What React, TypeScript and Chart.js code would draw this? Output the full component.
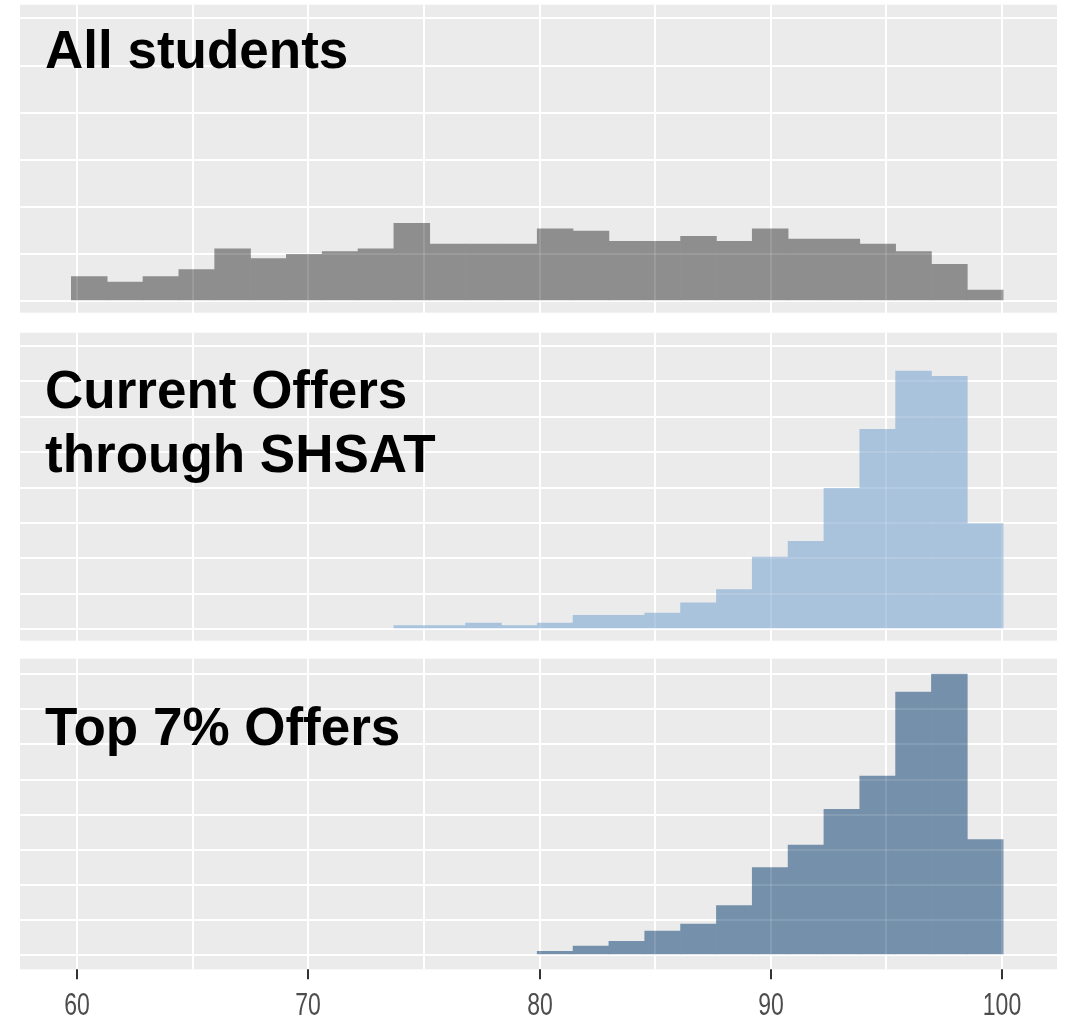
import React, { useEffect, useRef } from "react";
import { Chart, registerables } from "chart.js";

Chart.register(...registerables);

// ---------- data ----------
const BIN_START = 59.75;
const BIN_WIDTH = 1.55;

const allStudents: (number | null)[] = [
  0.52, 0.4, 0.52, 0.67, 1.11, 0.9, 0.99, 1.05, 1.11, 1.65,
  1.21, 1.21, 1.21, 1.535, 1.486, 1.267, 1.267, 1.374, 1.267, 1.535,
  1.316, 1.316, 1.21, 1.047, 0.779, 0.234,
];

const currentOffers: (number | null)[] = [
  null, null, null, null, null, null, null, null, null, 0.093,
  0.093, 0.17, 0.093, 0.17, 0.387, 0.387, 0.452, 0.743, 1.111, 2.035,
  2.479, 3.977, 5.645, 7.293, 7.143, 2.977,
];

const top7Offers: (number | null)[] = [
  null, null, null, null, null, null, null, null, null, null,
  null, null, null, 0.105, 0.256, 0.39, 0.684, 0.883, 1.405, 2.488,
  3.135, 4.152, 5.101, 7.495, 8.008, 3.286,
];

const titleAll = ["All students"];
const titleCurrent = ["Current Offers", "through SHSAT"];
const titleTop7 = ["Top 7% Offers"];

const xGridValues = [60, 65, 70, 75, 80, 85, 90, 95, 100];
const xTickLabels = [60, 70, 80, 90, 100];

// ---------- layout / style ----------
const W = 1069;
const H = 1019;
const X_MIN = 57.53;
const X_MAX = 102.38;
const PANEL_LEFT = 20;
const PANEL_RIGHT = 1057;
const PANEL_BG = "#EBEBEB";
const TITLE_FONT = 'bold 53px "Liberation Sans", Arial, Helvetica, sans-serif';
const TICK_FONT = '23px "Liberation Sans", Arial, Helvetica, sans-serif';

type PanelCfg = {
  values: (number | null)[];
  title: string[];
  color: string;
  top: number;
  bottom: number;
  yMin: number;
  yMax: number;
  yGrid: number;
  titleBaselines: number[];
  showAxis: boolean;
};

const panels: PanelCfg[] = [
  {
    values: allStudents,
    title: titleAll,
    color: "#8E8E8E",
    top: 4.7,
    bottom: 312.7,
    yMin: -0.248,
    yMax: 6.291,
    yGrid: 6,
    titleBaselines: [68.3],
    showAxis: false,
  },
  {
    values: currentOffers,
    title: titleCurrent,
    color: "#A9C3DD",
    top: 332.7,
    bottom: 640.7,
    yMin: -0.331,
    yMax: 8.377,
    yGrid: 8,
    titleBaselines: [408.3, 471.7],
    showAxis: false,
  },
  {
    values: top7Offers,
    title: titleTop7,
    color: "#7590AA",
    top: 658.7,
    bottom: 969.3,
    yMin: -0.408,
    yMax: 8.444,
    yGrid: 8,
    titleBaselines: [745],
    showAxis: true,
  },
];

function alignPx(p: number) {
  return Math.round(p - 1) + 1;
}

function makePlugin(cfg: PanelCfg) {
  return {
    id: "panelDeco",
    beforeDraw(chart: any) {
      const { ctx, chartArea: a } = chart;
      ctx.save();
      ctx.fillStyle = PANEL_BG;
      ctx.fillRect(a.left, a.top, a.right - a.left, a.bottom - a.top);
      ctx.restore();
    },
    afterDatasetsDraw(chart: any) {
      const { ctx, chartArea: a, scales } = chart;
      ctx.save();
      ctx.beginPath();
      ctx.rect(a.left, a.top, a.right - a.left, a.bottom - a.top);
      ctx.clip();
      ctx.strokeStyle = "rgba(255,255,255,0.12)";
      ctx.lineWidth = 2;
      for (const t of scales.x.ticks) {
        const px = alignPx(scales.x.getPixelForValue(t.value));
        ctx.beginPath();
        ctx.moveTo(px, a.top);
        ctx.lineTo(px, a.bottom);
        ctx.stroke();
      }
      for (const t of scales.y.ticks) {
        const py = alignPx(scales.y.getPixelForValue(t.value));
        ctx.beginPath();
        ctx.moveTo(a.left, py);
        ctx.lineTo(a.right, py);
        ctx.stroke();
      }
      ctx.restore();
    },
    afterDraw(chart: any) {
      const { ctx, chartArea: a, scales } = chart;
      ctx.save();
      ctx.fillStyle = "#000000";
      ctx.font = TITLE_FONT;
      ctx.textAlign = "left";
      ctx.textBaseline = "alphabetic";
      cfg.title.forEach((line, i) => {
        ctx.fillText(line, 45, cfg.titleBaselines[i]);
      });
      if (cfg.showAxis) {
        ctx.strokeStyle = "#333333";
        ctx.lineWidth = 2;
        ctx.fillStyle = "#4D4D4D";
        ctx.font = TICK_FONT;
        ctx.textAlign = "center";
        for (const v of xTickLabels) {
          const px = alignPx(scales.x.getPixelForValue(v));
          ctx.beginPath();
          ctx.moveTo(px, a.bottom);
          ctx.lineTo(px, a.bottom + 10);
          ctx.stroke();
          ctx.save();
          ctx.translate(px, 1015);
          ctx.scale(1, 1.4);
          ctx.fillText(String(v), 0, 0);
          ctx.restore();
        }
      }
      ctx.restore();
    },
  };
}

function Panel({ cfg }: { cfg: PanelCfg }) {
  const ref = useRef<HTMLCanvasElement>(null);
  useEffect(() => {
    const points = cfg.values.map((v, i) => ({
      x: BIN_START + BIN_WIDTH * (i + 0.5),
      y: v,
    }));
    const yTicks: number[] = [];
    for (let k = 0; k <= cfg.yGrid; k++) yTicks.push(k);
    const chart = new Chart(ref.current as HTMLCanvasElement, {
      type: "bar",
      data: {
        datasets: [
          {
            data: points as any,
            backgroundColor: cfg.color,
            borderWidth: 0,
            barPercentage: 1,
            categoryPercentage: 1,
          },
        ],
      },
      options: {
        animation: false,
        responsive: false,
        devicePixelRatio: 1,
        events: [],
        layout: {
          padding: {
            left: PANEL_LEFT,
            right: W - PANEL_RIGHT,
            top: cfg.top,
            bottom: H - cfg.bottom,
          },
        },
        plugins: {
          legend: { display: false },
          tooltip: { enabled: false },
          title: { display: false },
        },
        scales: {
          x: {
            type: "linear",
            min: X_MIN,
            max: X_MAX,
            offset: false,
            grid: {
              color: "#FFFFFF",
              lineWidth: 2,
              drawTicks: false,
              offset: false,
            },
            border: { display: false },
            ticks: { display: false },
            afterBuildTicks: (s: any) => {
              s.ticks = xGridValues.map((v) => ({ value: v }));
            },
            afterFit: (s: any) => {
              s.height = 0;
            },
          },
          y: {
            type: "linear",
            min: cfg.yMin,
            max: cfg.yMax,
            grid: { color: "#FFFFFF", lineWidth: 2, drawTicks: false },
            border: { display: false },
            ticks: { display: false },
            afterBuildTicks: (s: any) => {
              s.ticks = yTicks.map((v) => ({ value: v }));
            },
            afterFit: (s: any) => {
              s.width = 0;
            },
          },
        },
      } as any,
      plugins: [makePlugin(cfg)],
    });
    return () => chart.destroy();
  }, [cfg]);
  return (
    <canvas
      ref={ref}
      width={W}
      height={H}
      style={{ position: "absolute", left: 0, top: 0, width: W, height: H }}
    />
  );
}

export default function App() {
  return (
    <div
      style={{
        position: "absolute",
        left: 0,
        top: 0,
        width: W,
        height: H,
        background: "#FFFFFF",
        overflow: "hidden",
      }}
    >
      {panels.map((p, i) => (
        <Panel key={i} cfg={p} />
      ))}
    </div>
  );
}
